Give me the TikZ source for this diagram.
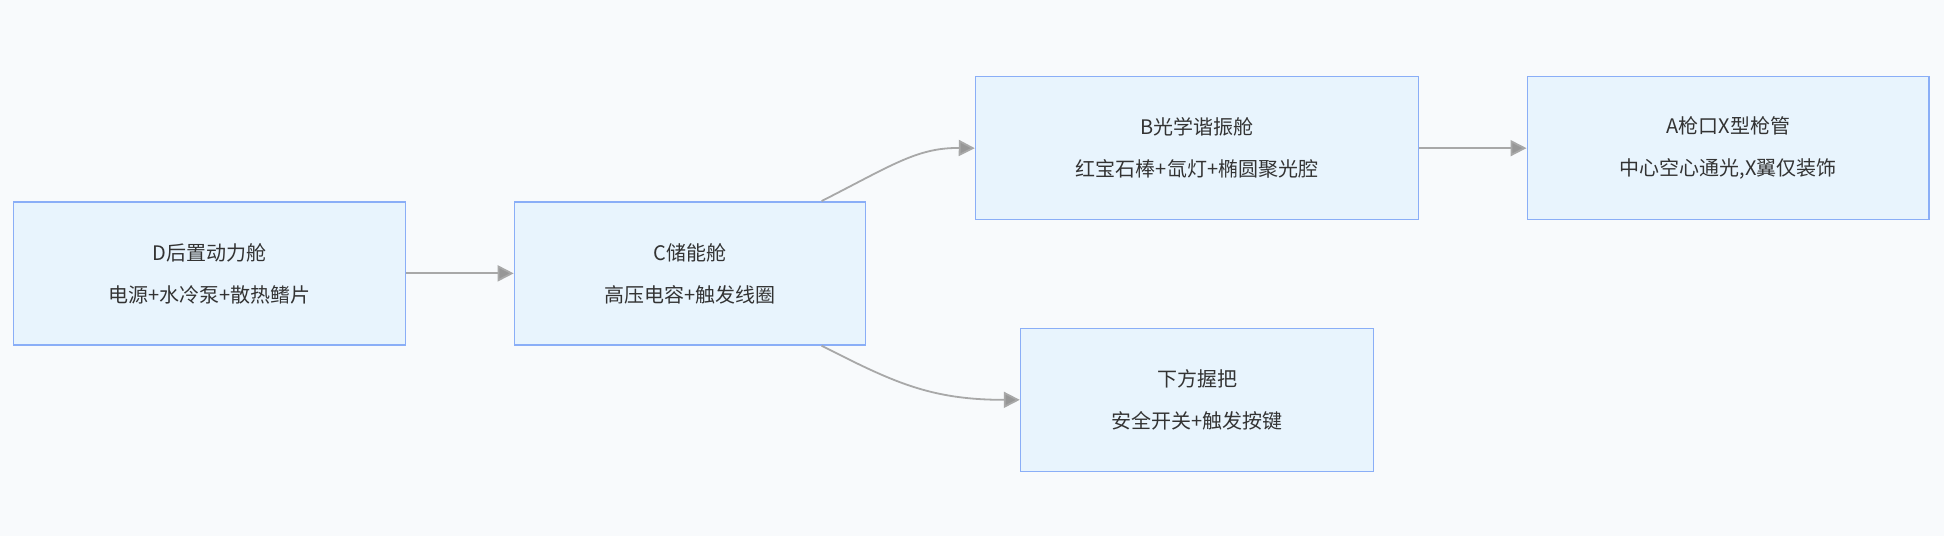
\documentclass[tikz,border=0pt]{standalone}
\usepackage{fontspec}
\setmainfont{Noto Sans CJK SC}
\usetikzlibrary{arrows.meta}
\definecolor{boxfill}{HTML}{E8F4FD}
\definecolor{boxline}{HTML}{8AAEF7}
\definecolor{bgcol}{HTML}{F8FAFC}
\definecolor{edgecol}{HTML}{A8A8A8}

\begin{document}
\begin{tikzpicture}[x=1.24pt, y=-1.24pt,
  stage/.style={draw=boxline, line width=1.6pt, fill=boxfill, minimum height=143pt,
    align=center, font=\fontsize{20}{42}\selectfont, text=black!80},
  link/.style={draw=edgecol, line width=1.8pt, -{Triangle[length=16pt,width=16pt,fill=edgecol!90!black]}}]
  % background
  \fill[bgcol] (0,0) rectangle (1568,432);
  \useasboundingbox (0,0) rectangle (1568,432);

  % stages
  \node[stage, minimum width=392pt] (power) at (169,220.5) {D后置动力舱\\电源+水冷泵+散热鳍片};
  \node[stage, minimum width=351pt] (store) at (556.5,220.5) {C储能舱\\高压电容+触发线圈};
  \node[stage, minimum width=443pt] (optic) at (965.5,119.5) {B光学谐振舱\\红宝石棒+氙灯+椭圆聚光腔};
  \node[stage, minimum width=402pt] (muzzle) at (1394,119.5) {A枪口X型枪管\\中心空心通光,X翼仅装饰};
  \node[stage, minimum width=353pt] (grip) at (965.5,322.5) {下方握把\\安全开关+触发按键};

  % links
  \draw[link] (power) -- (store);
  \draw[link] (store.north east) ++(-36,0) .. controls (720,133) and (740,119) .. (optic.west);
  \draw[link] (store.south east) ++(-36,0) .. controls (720,308) and (750,322.5) .. (grip.west);
  \draw[link] (optic) -- (muzzle);
\end{tikzpicture}
\end{document}
